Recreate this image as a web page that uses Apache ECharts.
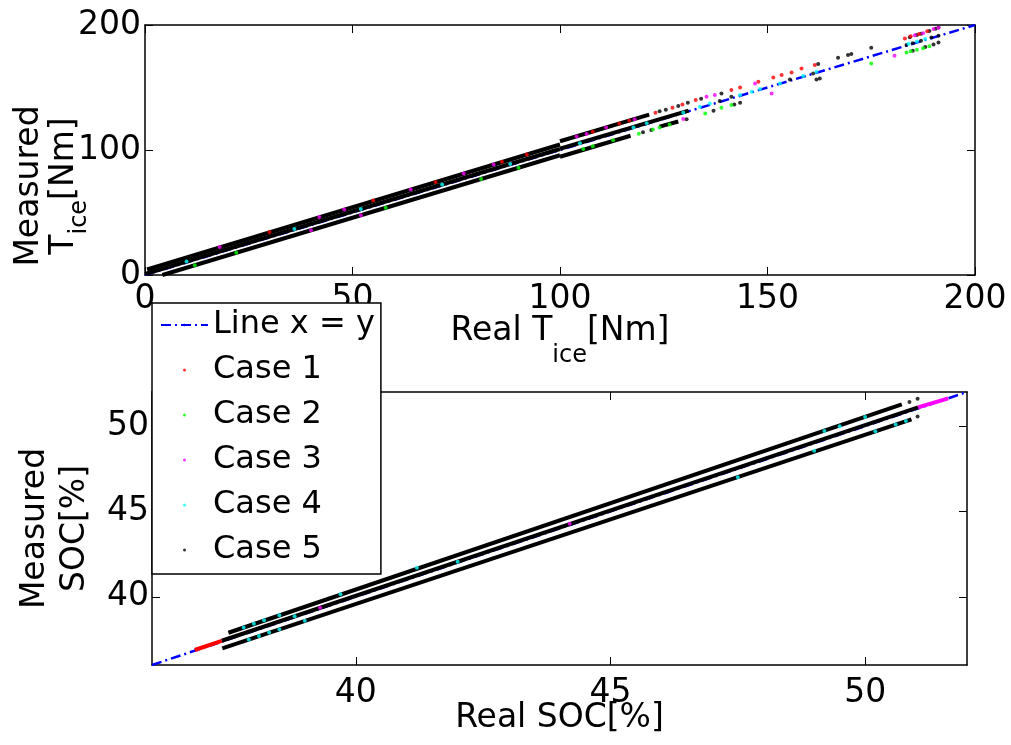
<!DOCTYPE html>
<html><head><meta charset="utf-8">
<script src="https://cdn.jsdelivr.net/npm/echarts@6/dist/echarts.min.js"></script>
<style>html,body{margin:0;padding:0;background:#fff}#c{width:1011px;height:745px}</style>
</head><body><div id="c"></div>
<script>
// ---------- data ----------
const CASES = ['Case 1', 'Case 2', 'Case 3', 'Case 4', 'Case 5'];
const caseColors = ['#ff0000', '#00ff00', '#ff00ff', '#00ffff', '#000000'];

// Top subplot: Real T_ice [Nm] vs Measured T_ice [Nm]
const topTicksX = [0, 50, 100, 150, 200];
const topTicksY = [0, 100, 200];
const topLineXY = [[0, 0], [200, 200]];
// dense runs of overlapping points: [caseIndex, x0, y0, x1, y1]
const topRuns = [
  [4, 0.5, 4.4, 100, 104.4],
  [4, 0, 0.8, 100, 100.8],
  [4, 4.2, 0, 100, 95.8],
  [4, 100, 107, 121.5, 128.3],
  [4, 100, 101, 131, 131.5],
  [4, 100, 94.6, 117, 111.4],
  [4, 124, 118.7, 128.5, 122.8]
];
const topCase1 = [[30,34.5],[55,59.6],[70,74.4],[86,90.6],[92,96.5],[107.9,114.7],[114.3,121.3],[116.7,123.4],[123,129.8],[127.1,133.9],[129.5,136.5],[132.7,140],[141.3,148],[143.4,150.1],[147.8,154.7],[151.4,158.1],[153.4,160],[155.8,162.1],[158.2,165.3],[161.4,168],[183.1,189.3],[184.5,191],[186.5,192.8],[188.5,195]];
const topCase2 = [[12,7.8],[22,17.8],[58,53.8],[81,76.8],[90,85.8],[105.6,100.8],[107.9,103],[112.8,107.8],[119,113],[122.4,116.5],[124,118],[126.4,120.5],[135,129.3],[138.9,133.9],[141.3,136],[175,169.3],[183.5,178],[184.5,179],[186,180.3],[187.5,181.5],[189,183]];
const topCase3 = [[18,22.4],[42,46.4],[48,52.4],[64,68.4],[76.8,81.2],[84,88.4],[40,35.8],[52,47.8],[104,110.8],[106.4,112.8],[111.1,118],[118,124.7],[135.3,142.7],[137.3,144],[147,153.3],[151,145.3],[129.7,124.8],[180.6,175.5],[185.5,191.8],[187.5,193.5],[190,196.8],[191.2,197.9]];
const topCase4 = [[10,10.8],[36,36.8],[52,52.8],[71.6,72.4],[88,88.8],[104.8,105.5],[117.7,118],[120.9,121.5],[129.7,130],[133.7,134.7],[136.1,137.3],[143.4,144],[146.2,146.7],[148.2,148.8],[153,153.3],[158.6,159.2],[161.8,162.7],[184,185],[186,186.8],[188,188.8]];
const topCase5 = [[124,131],[125.5,132.3],[128.5,135.3],[130.8,137.8],[134,141],[138.9,145.3],[162.2,168.8],[167,173.9],[169.4,176],[170.2,176.8],[175,181.9],[184.3,190.3],[186,192],[187,193],[189,195.3],[190.5,197],[191.2,198],[138.5,139.2],[141.3,142.7],[155.4,156.5],[161,161.3],[183.5,184],[185,185.5],[187,187.5],[189.5,190],[191.2,191.5],[120,114.2],[122,116],[130.5,124.7],[137,131.5],[142,136.5],[143.4,137.9],[161.8,156.5],[162.6,157.3],[185,179.5],[188,182.5],[190,184.5],[191.2,186.1]];

// Bottom subplot: Real SOC [%] vs Measured SOC [%]
const botTicks = [40, 45, 50];
const botLineXY = [[36, 36], [52, 52]];
const botRuns = [
  [0, 36.84, 36.88, 37.37, 37.42],
  [4, 37.50, 37.89, 50.72, 51.28],
  [4, 37.37, 37.42, 51.04, 51.10],
  [4, 37.38, 36.98, 50.91, 50.40],
  [2, 51.04, 51.10, 51.63, 51.63]
];
const botCase3 = [[39.3,39.35],[44.2,44.28]];
const botCase4 = [[37.8,38.2],[38.0,38.42],[38.2,38.62],[38.5,38.92],[39.7,40.15],[41.2,41.7],[49.2,49.72],[49.5,50.0],[50.0,50.53],[37.9,37.5],[38.1,37.7],[38.3,37.9],[38.5,38.1],[39.0,38.6],[47.5,47.0],[49.0,48.55],[50.2,49.7],[50.6,50.1],[50.8,50.3],[38.8,38.85],[42,42.05]];
const botCase5 = [[50.87,51.42],[51.03,51.6],[51.03,50.56]];

// ---------- chart ----------
const FONT = 'DejaVu Sans';
const chart = echarts.init(document.getElementById('c'));

function axisCommon(min, max, extra) {
  return Object.assign({
    type: 'value', min: min, max: max, nameMoveOverlap: false,
    axisLine: { show: true, onZero: false, lineStyle: { color: '#000', width: 1.5 } },
    axisTick: { show: true, inside: true, length: 8, lineStyle: { color: '#000', width: 1 } },
    splitLine: { show: false },
    axisLabel: { show: false }
  }, extra);
}
function customTicks(vals) { return { show: true, inside: true, length: 8, customValues: vals, lineStyle: { color: '#000', width: 1 } }; }
const labelStyle = (margin, vals) => ({ show: true, color: '#000', fontFamily: FONT, fontSize: 33, margin: margin, customValues: vals });

const series = [];
function addSet(xi, yi, lineXY, runs, cases) {
  series.push({ type: 'line', name: 'Line x = y', xAxisIndex: xi, yAxisIndex: yi, data: lineXY, symbol: 'none',
    lineStyle: { color: '#0000ff', width: 2.5, type: [10, 4, 2, 4] }, itemStyle: { color: '#0000ff' }, z: 1, silent: true });
  runs.forEach(r => series.push({ type: 'line', name: 'run', xAxisIndex: xi, yAxisIndex: yi,
    data: [[r[1], r[2]], [r[3], r[4]]], symbol: 'none', lineStyle: { color: caseColors[r[0]], width: 4 }, z: 2, silent: true }));
  cases.forEach(([ci, d]) => series.push({ type: 'scatter', name: CASES[ci], xAxisIndex: xi, yAxisIndex: yi,
    data: d, symbolSize: 4, itemStyle: { color: caseColors[ci] }, z: 3, silent: true }));
}
addSet(0, 0, topLineXY, topRuns, [[4, topCase5], [0, topCase1], [1, topCase2], [2, topCase3], [3, topCase4]]);
addSet(2, 2, botLineXY, botRuns, [[4, botCase5], [2, botCase3], [3, botCase4]]);
// empty placeholders so every case exists for the legend
[0, 1].forEach(ci => series.push({ type: 'scatter', name: CASES[ci], xAxisIndex: 2, yAxisIndex: 2, data: [], symbolSize: 4, itemStyle: { color: caseColors[ci] } }));

const nameBase = { fontFamily: FONT, fontSize: 33, color: '#000' };

chart.setOption({
  animation: false,
  backgroundColor: '#fff',
  grid: [
    { left: 145, top: 25, width: 830, height: 250, containLabel: false, outerBoundsMode: 'none' },
    { left: 152, top: 392, width: 815, height: 273, containLabel: false, outerBoundsMode: 'none' }
  ],
  xAxis: [
    axisCommon(0, 200, { gridIndex: 0, position: 'bottom', axisTick: customTicks(topTicksX), axisLabel: labelStyle(8, topTicksX),
      name: '{n|Real T}{s|ice}{n|[Nm]}', nameLocation: 'middle', nameGap: 40,
      nameTextStyle: Object.assign({}, nameBase, { rich: {
        n: Object.assign({}, nameBase, { lineHeight: 33, verticalAlign: 'top' }),
        s: Object.assign({}, nameBase, { fontSize: 24, lineHeight: 24, verticalAlign: 'top', padding: [29, 0, 0, 0] }) } }) }),
    axisCommon(0, 200, { gridIndex: 0, position: 'top', axisTick: customTicks(topTicksX) }),
    axisCommon(36, 52, { gridIndex: 1, position: 'bottom', axisTick: customTicks(botTicks), axisLabel: labelStyle(12, botTicks),
      name: 'Real SOC[%]', nameLocation: 'middle', nameGap: 37, nameTextStyle: Object.assign({}, nameBase, { lineHeight: 33 }) }),
    axisCommon(36, 52, { gridIndex: 1, position: 'top', axisTick: customTicks(botTicks) })
  ],
  yAxis: [
    axisCommon(0, 200, { gridIndex: 0, position: 'left', axisTick: customTicks(topTicksY), axisLabel: labelStyle(4, topTicksY),
      name: 'Measured\n{n|T}{s|ice}{n|[Nm]}', nameLocation: 'middle', nameRotate: 90, nameGap: 59,
      nameTextStyle: Object.assign({}, nameBase, { lineHeight: 38, padding: [0, 72, 0, 0], rich: {
        n: Object.assign({}, nameBase, { lineHeight: 38, verticalAlign: 'top' }),
        s: Object.assign({}, nameBase, { fontSize: 24, lineHeight: 24, verticalAlign: 'top', padding: [20, 0, 0, 0] }) } }) }),
    axisCommon(0, 200, { gridIndex: 0, position: 'right', axisTick: customTicks(topTicksY) }),
    axisCommon(36, 52, { gridIndex: 1, position: 'left', axisTick: customTicks(botTicks), axisLabel: labelStyle(3, botTicks),
      name: 'Measured\nSOC[%]', nameLocation: 'middle', nameRotate: 90, nameGap: 57,
      nameTextStyle: Object.assign({}, nameBase, { lineHeight: 40 }) }),
    axisCommon(36, 52, { gridIndex: 1, position: 'right', axisTick: customTicks(botTicks) })
  ],
  legend: {
    orient: 'vertical', left: 152, top: 303, padding: [6, 6, 8, 8], itemGap: 13,
    itemWidth: 47, itemHeight: 3, backgroundColor: '#fff', borderColor: '#000', borderWidth: 1.5, borderRadius: 0,
    selectedMode: false,
    textStyle: { fontFamily: FONT, fontSize: 32, color: '#000' },
    data: [{ name: 'Line x = y' }].concat(CASES.map(n => ({ name: n, icon: 'circle' })))
  },
  series: series
});
</script></body></html>
